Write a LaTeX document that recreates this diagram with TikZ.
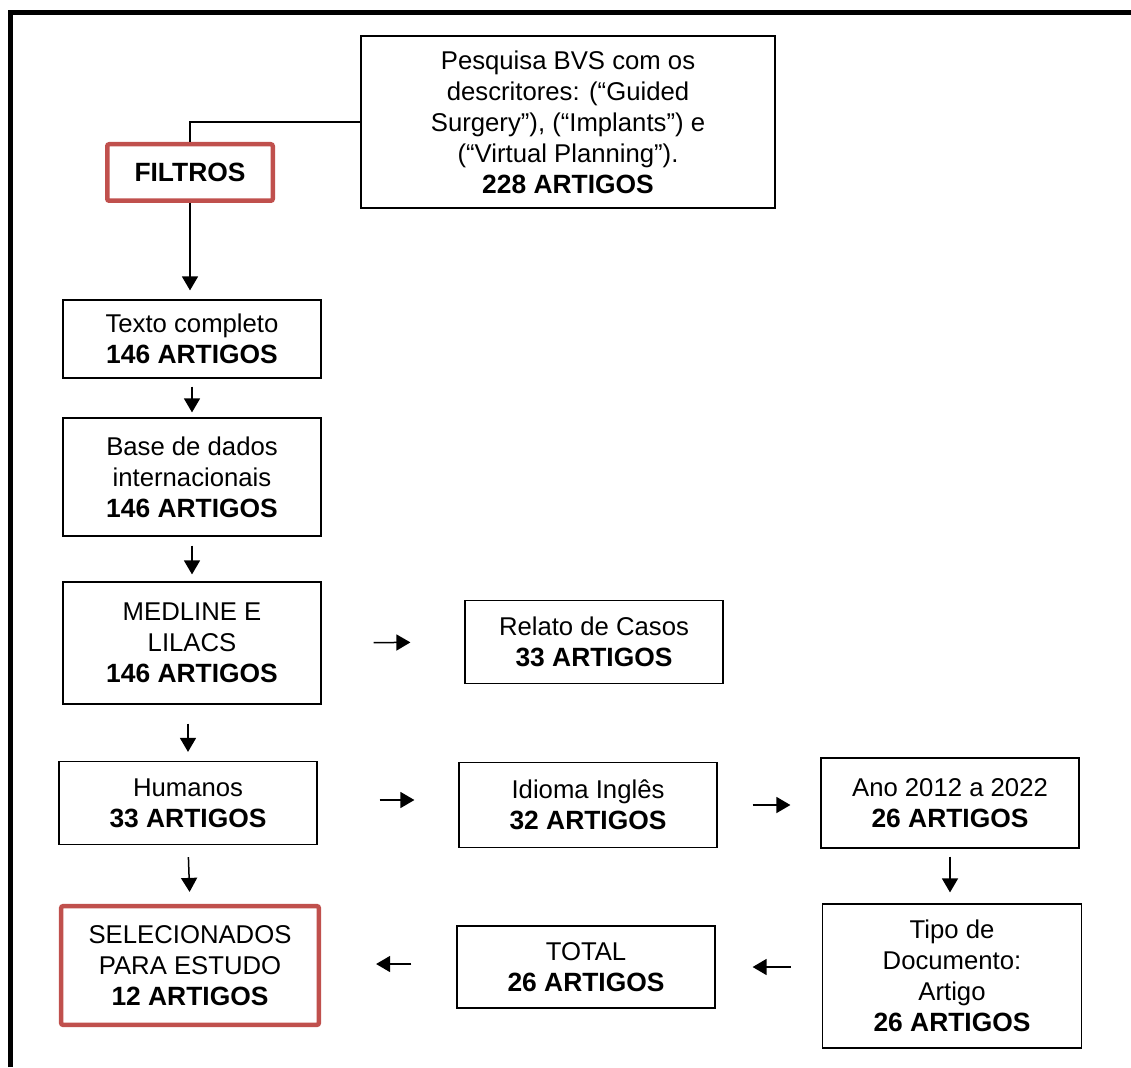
\documentclass[tikz,border=0pt]{standalone}
\usepackage{fontspec}
\setmainfont{Liberation Sans}
\usetikzlibrary{arrows.meta}
\definecolor{boxred}{HTML}{C0504D}
\newcommand\bt[1]{{\fontsize{26.4}{31}\selectfont\bfseries #1}}
\begin{document}
\begin{tikzpicture}[x=1pt,y=-1pt,
  every node/.style={font=\fontsize{25.7}{31}\selectfont, align=center, inner sep=0pt},
  plain/.style={draw, line width=1.2pt, minimum width=258pt},
  redbox/.style={draw=boxred, line width=4.5pt, rounded corners=2pt},
  arr/.style={line width=1.5pt, -{Triangle[length=14pt,width=16pt]}},
  conn/.style={line width=1.3pt}]
\useasboundingbox (0,0) rectangle (1131,1067);
\draw[line width=5pt, line join=miter] (10.5,1067) |- (1131,12.5);

\node[plain, minimum width=414pt, minimum height=172pt] (pesq) at (568,122)
  {Pesquisa BVS com os\\descritores: (“Guided\\Surgery”), (“Implants”) e\\(“Virtual Planning”).\\\bt{228 ARTIGOS}};
\node[redbox, minimum width=165.5pt, minimum height=56.5pt] (filt) at (190,172.5) {\bt{FILTROS}};
\node[plain, minimum height=78pt] (texto) at (192,339) {Texto completo\\\bt{146 ARTIGOS}};
\node[plain, minimum height=118pt] (base) at (192,477) {Base de dados\\internacionais\\\bt{146 ARTIGOS}};
\node[plain, minimum height=122pt] (med) at (192,643) {MEDLINE E\\LILACS\\\bt{146 ARTIGOS}};
\node[plain, minimum height=83pt] (rel) at (594,642) {Relato de Casos\\\bt{33 ARTIGOS}};
\node[plain, minimum height=83pt] (hum) at (188,803) {Humanos\\\bt{33 ARTIGOS}};
\node[plain, minimum height=85pt] (idi) at (588,805) {Idioma Inglês\\\bt{32 ARTIGOS}};
\node[plain, minimum height=90pt] (ano) at (950,803) {Ano 2012 a 2022\\\bt{26 ARTIGOS}};
\node[plain, minimum width=259pt, minimum height=144pt] (tipo) at (952,976) {Tipo de\\Documento:\\Artigo\\\bt{26 ARTIGOS}};
\node[plain, minimum height=82pt] (total) at (586,967) {TOTAL\\\bt{26 ARTIGOS}};
\node[redbox, minimum width=257.7pt, minimum height=118.7pt] (sel) at (190,965.5) {SELECIONADOS\\PARA ESTUDO\\\bt{12 ARTIGOS}};

\draw[conn] (pesq.west) -| (filt.north);
\draw[arr, shorten >=9pt] (filt.south) -- (filt.south |- texto.north);
\draw[arr, shorten <=8pt, shorten >=5pt] (texto.south) -- (base.north);
\draw[arr, shorten <=9pt, shorten >=7pt] (base.south) -- (med.north);
\draw[arr, shorten <=52pt, shorten >=54pt] (med.east) -- (rel.west);
\draw[arr, shorten <=19pt, shorten >=9pt] (hum.north |- med.south) -- (hum.north);
\draw[arr, shorten <=62pt, shorten >=44pt] ([yshift=3pt]hum.east) -- ([yshift=3pt]idi.west |- hum.east);
\draw[arr, shorten <=35pt, shorten >=30pt] (idi.east) -- (ano.west |- idi.east);
\draw[arr, shorten <=8pt, shorten >=11pt] (ano.south) -- (ano.south |- tipo.north);
\draw[arr, shorten <=31pt, shorten >=37pt] (total.east -| tipo.west) -- (total.east);
\draw[arr, shorten <=45pt, shorten >=55pt] ([yshift=3pt]total.west) -- ([yshift=3pt]sel.east |- total.west);
\draw[arr, shorten <=12pt, shorten >=12pt] (hum.south) -- (sel.north);
\end{tikzpicture}
\end{document}
